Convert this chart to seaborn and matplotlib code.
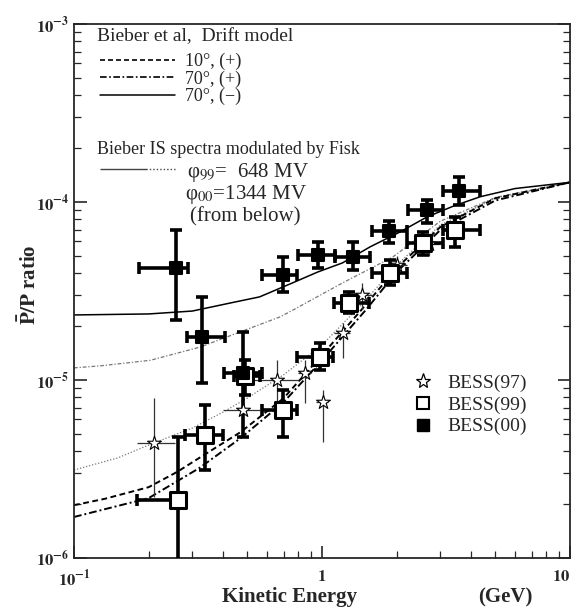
import numpy as np
import pandas as pd
import matplotlib
matplotlib.use("Agg")
import matplotlib.pyplot as plt
import seaborn as sns
from matplotlib.lines import Line2D

# ---------------- data (ratio values in units of 1e-6) ----------------
# Bieber drift model curves
drift10p_E = [0.1, 0.133, 0.2, 0.26, 0.32, 0.47, 0.7, 1.0, 1.5, 2.0, 3.0, 5.0, 10.0]
drift10p_R = [1.98, 2.15, 2.5, 3.04, 3.65, 5.1, 7.9, 13.8, 26.4, 42.6, 72.4, 105, 129]
drift70p_E = [0.1, 0.2, 0.32, 0.47, 0.7, 1.0, 1.5, 2.0, 3.0, 5.0, 10.0]
drift70p_R = [1.70, 2.17, 3.2, 4.72, 7.5, 12.9, 24.7, 40.4, 69.6, 102, 129]
drift70m_E = [0.1, 0.2, 0.3, 0.45, 0.56, 0.76, 0.96, 1.21, 1.56, 2.06, 2.65, 3.4, 4.34, 6.0, 10.0]
drift70m_R = [23.2, 23.5, 24.4, 27.5, 29.3, 35.1, 40.4, 45.5, 55.9, 67.8, 82.4, 95, 107, 119, 129]
# Fisk-modulated IS spectra
fisk_low_E = [0.1, 0.15, 0.21, 0.3, 0.4, 0.5, 0.7, 1.0, 1.5, 2.0, 3.0, 5.0, 10.0]
fisk_low_R = [3.12, 3.65, 4.43, 5.37, 6.61, 7.92, 10.7, 15.7, 28.1, 44.2, 74.3, 105, 129]
fisk_mid_E = [0.1, 0.127, 0.203, 0.322, 0.467, 0.676, 0.763, 1.21, 1.93, 3.0, 5.0, 10.0]
fisk_mid_R = [11.7, 12.0, 12.9, 15.3, 18.6, 22.6, 24.7, 35.1, 49.1, 78, 106, 129]

# BESS(97)
b97_E   = [0.21, 0.48, 0.66, 0.853, 1.01, 1.22, 1.45, 2.0, 2.7]
b97_R   = [4.4, 6.8, 10.0, 10.9, 7.5, 18.4, 30.0, 44.0, 58.0]
b97_Elo = [0.18, 0.40, 0.50, 0.80, 0.95, 1.12, 1.30, 1.80, 2.40]
b97_Ehi = [0.255, 0.56, 0.80, 0.90, 1.06, 1.30, 1.60, 2.20, 3.00]
b97_Rlo = [2.2, 5.0, 7.5, 7.4, 4.5, 13.3, 25.0, 38.0, 50.0]
b97_Rhi = [7.9, 9.0, 12.9, 13.0, 8.8, 21.0, 35.0, 50.0, 66.0]

# BESS(99)
b99_E   = [0.263, 0.337, 0.49, 0.696, 0.982, 1.284, 1.88, 2.55, 3.44]
b99_R   = [2.12, 4.91, 10.5, 6.78, 13.5, 27.1, 39.9, 58.9, 69.6]
b99_Elo = [0.180, 0.280, 0.44, 0.573, 0.793, 1.117, 1.59, 2.20, 3.08]
b99_Ehi = [0.263, 0.399, 0.56, 0.793, 1.107, 1.547, 2.20, 3.08, 4.34]
b99_Rlo = [0.5, 3.12, 8.2, 4.78, 11.4, 23.8, 34.2, 50.4, 55.9]
b99_Rhi = [4.78, 7.24, 13.0, 8.78, 16.1, 31.2, 47.2, 67.8, 82.4]

# BESS(00)
b00_E   = [0.258, 0.328, 0.480, 0.696, 0.963, 1.334, 1.862, 2.65, 3.57]
b00_R   = [42.6, 17.4, 10.9, 38.9, 50.4, 49.1, 68.7, 90.2, 115]
b00_Elo = [0.183, 0.286, 0.402, 0.573, 0.800, 1.128, 1.59, 2.22, 3.08]
b00_Ehi = [0.288, 0.406, 0.573, 0.793, 1.128, 1.562, 2.20, 3.08, 4.34]
b00_Rlo = [21.7, 9.6, 4.8, 31.2, 42.6, 41.5, 58.9, 76.2, 96.2]
b00_Rhi = [69.6, 29.3, 18.6, 49.1, 59.6, 59.6, 78.2, 102.6, 138]

xticks = [0.1, 1, 10]
xtick_labels = [r"$\mathbf{10^{-1}}$", r"$\mathbf{1}$", r"$\mathbf{10}$"]
yticks = [1e-6, 1e-5, 1e-4, 1e-3]
ytick_labels = [r"$\mathbf{10^{-6}}$", r"$\mathbf{10^{-5}}$", r"$\mathbf{10^{-4}}$", r"$\mathbf{10^{-3}}$"]

SC = 1e-6

# ---------------- style ----------------
sns.set_style("ticks")
plt.rcParams["font.family"] = ["Liberation Serif", "DejaVu Serif"]
plt.rcParams["mathtext.fontset"] = "stix"

fig = plt.figure(figsize=(5.75, 6.09), dpi=100)
ax = fig.add_axes([74 / 575, 1 - 558 / 609, 496 / 575, 534 / 609])
ax.set_xscale("log")
ax.set_yscale("log")
ax.set_xlim(0.1, 10)
ax.set_ylim(1e-6, 1e-3)

LS_DASH = (0, (3, 1.8))
LS_DDOT = (0, (4, 1.5, 1, 1.5))


def curve(E, R, **kw):
    df = pd.DataFrame({"E": E, "R": np.array(R) * SC})
    sns.lineplot(data=df, x="E", y="R", ax=ax, sort=False, estimator=None, **kw)


curve(fisk_low_E, fisk_low_R, color="#777777", linestyle=(0, (1, 1.5)), linewidth=0.9)
curve(fisk_mid_E, fisk_mid_R, color="#777777", linestyle=(0, (3, 1.5, 1, 1.5)), linewidth=0.9)
curve(drift10p_E, drift10p_R, color="black", linestyle=LS_DASH, linewidth=1.4)
curve(drift70p_E, drift70p_R, color="black", linestyle=LS_DDOT, linewidth=1.4)
curve(drift70m_E, drift70m_R, color="black", linestyle="-", linewidth=1.1)


def points(E, R, Elo, Ehi, Rlo, Rhi, thick, marker, face, size, mew):
    E = np.array(E); R = np.array(R) * SC
    Elo = np.array(Elo); Ehi = np.array(Ehi)
    Rlo = np.array(Rlo) * SC; Rhi = np.array(Rhi) * SC
    if thick:
        ax.errorbar(E, R, xerr=[E - Elo, Ehi - E], yerr=[R - Rlo, Rhi - R], fmt="none",
                    ecolor="black", elinewidth=2.6, capsize=4.5, capthick=2.6, zorder=4)
    else:
        ax.errorbar(E, R, xerr=[E - Elo, Ehi - E], yerr=[R - Rlo, Rhi - R], fmt="none",
                    ecolor="#333333", elinewidth=0.9, capsize=0, zorder=3)
    sns.scatterplot(x=E, y=R, ax=ax, marker=marker, s=size, color=face,
                    edgecolor="black", linewidth=mew, zorder=5)


points(b97_E, b97_R, b97_Elo, b97_Ehi, b97_Rlo, b97_Rhi, False, "*", "white", 110, 0.8)
points(b99_E, b99_R, b99_Elo, b99_Ehi, b99_Rlo, b99_Rhi, True, "s", "white", 120, 2.2)
points(b00_E, b00_R, b00_Elo, b00_Ehi, b00_Rlo, b00_Rhi, True, "s", "black", 80, 1.5)

# ---------------- axes ----------------
ax.set_xticks(xticks)
ax.set_xticklabels(xtick_labels)
ax.get_xticklabels()[-1].set_horizontalalignment("right")
ax.set_yticks(yticks)
ax.set_yticklabels(ytick_labels)
ax.tick_params(which="both", direction="in", top=False, right=True, labelsize=12)
ax.tick_params(which="major", length=9, width=1.2)
ax.tick_params(which="minor", length=5, width=0.9)
ax.tick_params(axis="x", pad=8)
for s in ax.spines.values():
    s.set_linewidth(1.3)
ax.set_xlabel("")
ax.set_ylabel("")

fig.text(290 / 575, 1 - 597 / 609, "Kinetic Energy", ha="center", va="center",
         fontsize=15, fontweight="bold")
fig.text(505 / 575, 1 - 597 / 609, "(GeV)", ha="center", va="center",
         fontsize=15, fontweight="bold")
fig.text(30 / 575, 1 - 285 / 609, r"$\mathbf{\bar{P}/P}$ ratio", ha="center", va="center",
         rotation=90, fontsize=15, fontweight="bold")


def afx(px):
    return (px - 74) / 496


def afy(py):
    return (558 - py) / 534


# ---------------- legends ----------------
ax.text(afx(97), afy(37), "Bieber et al,  Drift model", transform=ax.transAxes,
        fontsize=14, ha="left", va="center")
h1 = [Line2D([], [], color="black", linestyle=LS_DASH, linewidth=1.2),
      Line2D([], [], color="black", linestyle=LS_DDOT, linewidth=1.2),
      Line2D([], [], color="black", linestyle="-", linewidth=1.1)]
leg1 = ax.legend(h1, ["10°, (+)", "70°, (+)", "70°, (−)"], loc="upper left",
                 bbox_to_anchor=(afx(96), afy(49)), frameon=False, fontsize=13,
                 handlelength=4.2, handletextpad=0.55, labelspacing=0.02,
                 borderaxespad=0.0, borderpad=0.2)
ax.add_artist(leg1)

ax.text(afx(97), afy(150), "Bieber IS spectra modulated by Fisk", transform=ax.transAxes,
        fontsize=13, ha="left", va="center")
h2 = [Line2D([], [], color="#444444",
             linestyle=(0, (34, 1.5, 1, 1.5, 1, 1.5, 1, 1.5, 1, 1.5, 1, 1.5, 1, 1.5, 1, 1.5,
                            1, 1.5, 1, 1.5)), linewidth=1.0)]
leg2 = ax.legend(h2, ["φ$_{99}$=  648 MV"], loc="center left",
                 bbox_to_anchor=(afx(96), afy(172)), frameon=False, fontsize=15,
                 handlelength=3.7, handletextpad=0.45, borderaxespad=0.0, borderpad=0.2)
ax.add_artist(leg2)
ax.text(afx(185), afy(195), "φ$_{00}$=1344 MV", transform=ax.transAxes, fontsize=15,
        ha="left", va="center")
ax.text(afx(190), afy(217), "(from below)", transform=ax.transAxes, fontsize=15,
        ha="left", va="center")

h3 = [Line2D([], [], linestyle="none", marker="*", markersize=11, markerfacecolor="white",
             markeredgecolor="black", markeredgewidth=0.9),
      Line2D([], [], linestyle="none", marker="s", markersize=9, markerfacecolor="white",
             markeredgecolor="black", markeredgewidth=1.5),
      Line2D([], [], linestyle="none", marker="s", markersize=8, markerfacecolor="black",
             markeredgecolor="black")]
leg3 = ax.legend(h3, ["BESS(97)", "BESS(99)", "BESS(00)"], loc="center left",
                 bbox_to_anchor=(afx(409), afy(405)), frameon=False, fontsize=14,
                 handlelength=1.0, handletextpad=0.8, labelspacing=0.2,
                 borderaxespad=0.0, borderpad=0.2)

fig.savefig("out.png", dpi=100)
